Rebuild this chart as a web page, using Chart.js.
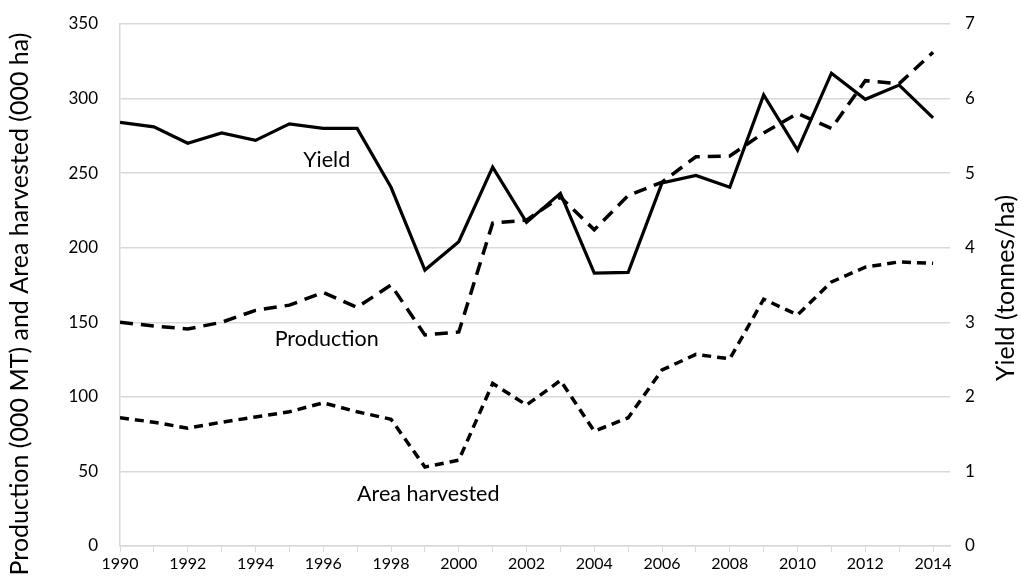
<!DOCTYPE html>
<html>
<head>
<meta charset="utf-8">
<script src="https://cdn.jsdelivr.net/npm/chart.js@4"></script>
<style>
  html, body { margin: 0; padding: 0; background: #fff; }
  #wrap { width: 1021px; height: 580px; }
</style>
</head>
<body>
<div id="wrap"><canvas id="c" width="1021" height="580"></canvas></div>
<script>
// years on the x axis
const years = [1990, 1991, 1992, 1993, 1994, 1995, 1996, 1997, 1998, 1999, 2000, 2001, 2002,
               2003, 2004, 2005, 2006, 2007, 2008, 2009, 2010, 2011, 2012, 2013, 2014];

// yield (tonnes/ha), right axis
const yieldVals = [5.68, 5.62, 5.40, 5.54, 5.44, 5.66, 5.60, 5.60, 4.81, 3.70, 4.08, 5.08, 4.34,
                   4.73, 3.66, 3.67, 4.87, 4.97, 4.81, 6.05, 5.31, 6.34, 5.99, 6.18, 5.74];

// production (000 MT), left axis
const production = [150, 147.5, 145.5, 150, 158, 161.5, 170, 160, 175, 141.5, 143.5, 216.5, 218.5,
                     234, 212, 235, 244, 261, 261.5, 277, 290, 280, 312, 310, 331];

// area harvested (000 ha), left axis
const areaHarvested = [86, 83, 79, 83, 86.5, 90, 96, 90, 85, 53, 57.5, 109, 94.5,
                       111, 77, 86, 118, 128.5, 125.5, 165.5, 155, 177, 187, 190.5, 189.5];

const leftTicks = [0, 50, 100, 150, 200, 250, 300, 350];
const rightTicks = [0, 1, 2, 3, 4, 5, 6, 7];

const leftTitle = 'Production (000 MT) and Area harvested (000 ha)';
const rightTitle = 'Yield (tonnes/ha)';

// in-plot series labels: [text, year, left-axis value]
const seriesLabels = [
  ['Yield', 1996.1, 259],
  ['Production', 1996.1, 139],
  ['Area harvested', 1999.1, 35]
];

const FONT = 'Lato';
const GRID = '#d9d9d9';

const pts = vals => vals.map((v, i) => ({ x: years[i], y: v }));

// no extra room for half tick labels, the plot box is set by the layout padding
const noPad = s => {
  s.paddingTop = 0; s.paddingBottom = 0; s.paddingLeft = 0; s.paddingRight = 0;
};

const labelPlugin = {
  id: 'seriesLabels',
  afterDatasetsDraw(chart) {
    const { ctx, scales, chartArea } = chart;
    ctx.save();
    ctx.fillStyle = '#000';
    ctx.textAlign = 'center';
    ctx.textBaseline = 'middle';
    ctx.font = '21.5px ' + FONT;
    seriesLabels.forEach(([t, x, y]) => {
      ctx.fillText(t, scales.x.getPixelForValue(x), scales.y.getPixelForValue(y));
    });

    // axis titles, both read bottom to top
    ctx.font = '25px ' + FONT;
    const midY = (chartArea.top + chartArea.bottom) / 2;
    ctx.save();
    ctx.translate(20, midY + 19);
    ctx.rotate(-Math.PI / 2);
    ctx.fillText(leftTitle, 0, 0);
    ctx.restore();
    ctx.save();
    ctx.translate(1006, midY + 3);
    ctx.rotate(-Math.PI / 2);
    ctx.fillText(rightTitle, 0, 0);
    ctx.restore();
    ctx.restore();
  }
};

new Chart(document.getElementById('c'), {
  type: 'line',
  data: {
    datasets: [
      {
        label: 'Yield',
        data: pts(yieldVals),
        yAxisID: 'y2',
        borderColor: '#000',
        borderWidth: 3.2,
        pointRadius: 0,
        tension: 0
      },
      {
        label: 'Production',
        data: pts(production),
        yAxisID: 'y',
        borderColor: '#000',
        borderWidth: 3.5,
        borderDash: [13, 8],
        pointRadius: 0,
        tension: 0
      },
      {
        label: 'Area harvested',
        data: pts(areaHarvested),
        yAxisID: 'y',
        borderColor: '#000',
        borderWidth: 3.5,
        borderDash: [9, 6],
        pointRadius: 0,
        tension: 0
      }
    ]
  },
  options: {
    responsive: false,
    animation: false,
    layout: { padding: { top: 24, right: 0, left: 0, bottom: 0 } },
    plugins: {
      legend: { display: false },
      tooltip: { enabled: false }
    },
    scales: {
      x: {
        type: 'linear',
        min: 1990,
        max: 2014.5,
        afterFit: s => { s.height = 34; noPad(s); },
        ticks: {
          stepSize: 1,
          includeBounds: false,
          autoSkip: false,
          maxRotation: 0,
          padding: 2,
          color: '#000',
          font: { family: FONT, size: 16 },
          callback: v => (v % 2 === 0 ? String(v) : '')
        },
        grid: { drawOnChartArea: false, drawTicks: true, tickLength: 6, color: GRID },
        border: { color: GRID, width: 1.5 }
      },
      y: {
        position: 'left',
        min: 0,
        max: 350,
        afterFit: s => { s.width = 120; noPad(s); },
        afterBuildTicks: s => { s.ticks = leftTicks.map(v => ({ value: v })); },
        ticks: {
          padding: 22,
          color: '#000',
          font: { family: FONT, size: 17 }
        },
        grid: { color: GRID, lineWidth: 1.5, drawTicks: false },
        border: { color: GRID, width: 1.5 }
      },
      y2: {
        position: 'right',
        min: 0,
        max: 7,
        afterFit: s => { s.width = 71; noPad(s); },
        afterBuildTicks: s => { s.ticks = rightTicks.map(v => ({ value: v })); },
        ticks: {
          padding: 15,
          color: '#000',
          font: { family: FONT, size: 17 }
        },
        grid: { drawOnChartArea: false, drawTicks: false },
        border: { display: false }
      }
    }
  },
  plugins: [labelPlugin]
});
</script>
</body>
</html>
